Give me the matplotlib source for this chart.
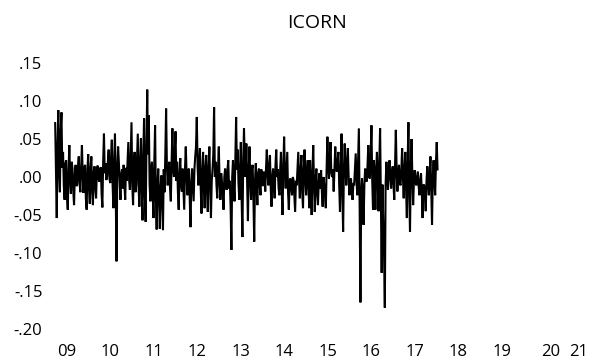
import numpy as np
import matplotlib
matplotlib.use("Agg")
import matplotlib.pyplot as plt
from matplotlib.ticker import FuncFormatter

# ICORN series in six consecutive equal-length time blocks
# (mid 2009 .. end 2017)
icorn_part1 = [.071, .010, -.054, .040, .088, .005, -.020, .062, .085, .012,
               .033, -.012, -.030, .018, .022, -.025, -.043, .008, .042, -.005,
               -.022, .020, .011, -.018, -.037, .004, .016, -.012, -.010, .014,
               .027, -.008, -.020, .010, .042, .002, -.021, .012, .016, -.028,
               -.043, .010, .030, -.015, -.035, .012, .027, -.020, -.037, .006,
               .014, -.015, -.028, .010, .015, -.002, -.006, .010, .013, -.022,
               -.040, .020, .057, .005, .018, -.004, .001, .020, .036, -.002,
               -.008, .025, .049, -.010, -.041, .020, .057, -.030, -.111, .015,
               .040]
icorn_part2 = [.018, -.008, -.030, .004, .010, -.015, .016, -.010, -.030, .012,
               -.005, .020, .046, -.004, -.017, .030, .072, -.010, -.037, .015,
               .033, -.020, -.011, .025, .057, -.012, -.039, .022, .051, -.020,
               -.057, .030, .077, -.025, -.059, .040, .115, .030, .081, -.010,
               -.032, .012, .020, -.025, -.054, .020, .068, -.030, -.069, -.010,
               .011, -.030, -.068, -.015, .002, -.035, -.070, .010, -.020, .030,
               .090, .015, -.011, .008, .020, -.015, -.032, .020, .064, .010,
               .000, .035, .060, -.005, .020, -.020, -.043, .005, .025, -.010,
               -.019]
icorn_part3 = [.011, -.015, -.043, .010, .040, .005, -.024, .008, .011, -.030,
               -.066, -.010, .011, -.012, -.032, .010, .027, .040, .079, .015,
               -.011, .020, .038, -.015, -.048, .005, .033, -.010, -.041, .012,
               .029, -.020, -.046, .015, .040, -.012, -.054, -.005, .010, .030,
               .092, .000, .020, -.010, -.028, .012, .040, -.008, -.030, .005,
               -.006, -.020, -.043, .000, .011, -.008, -.017, .010, .022, -.015,
               -.005, -.040, -.096, .000, .022, -.010, -.032, .020, .079, .010,
               .036, -.008, -.030, .012, .046, -.030, -.079, .020, .064, .020,
               .000]
icorn_part4 = [.044, -.010, -.058, .010, .040, -.005, -.030, .010, .016, -.030,
               -.085, -.005, .018, -.012, -.037, .005, .011, -.010, -.024, .010,
               .000, -.012, .007, .002, -.019, .012, .036, .005, -.011, .015,
               .029, -.015, -.039, .000, .011, -.012, -.028, .015, .036, .000,
               .010, -.015, -.024, .010, .033, -.020, -.050, .015, .053, .005,
               -.015, .010, .033, -.020, -.043, -.005, -.002, -.015, -.024, .000,
               -.004, -.025, -.046, -.005, -.011, .012, .033, -.005, -.028, .010,
               .029, -.020, -.041, .010, .036, -.005, -.024, .008, .022, -.015,
               -.041]
icorn_part5 = [.022, -.010, -.050, .005, .042, -.010, -.046, -.005, .011, -.020,
               -.037, -.008, .005, -.015, .009, -.020, -.039, .000, -.010, -.025,
               -.041, .010, .053, .015, -.002, .025, .046, .005, .000, .010,
               -.019, .012, .040, .015, .007, .020, .033, -.010, -.046, .010,
               .057, -.020, -.072, .010, .044, .012, -.011, .020, .038, .000,
               -.024, -.005, -.002, -.020, -.030, -.008, -.011, .010, .031, -.005,
               -.024, .020, .064, -.040, -.165, -.020, -.002, -.030, -.063, -.010,
               .011, -.002, -.006, .015, .042, .000, -.002, .030, .068, -.005,
               -.043]
icorn_part6 = [.022, .005, -.043, .010, .033, -.010, -.045, .020, .064, -.030,
               -.126, -.010, -.060, -.100, -.172, -.010, .020, .000, -.017, .010,
               .022, .000, -.015, .005, .014, -.010, -.030, .015, .062, .010,
               -.019, .005, .016, -.008, -.011, .010, .038, .000, -.028, .010,
               .033, -.015, -.054, .020, .072, -.020, -.072, .010, .050, .000,
               -.037, -.005, .009, -.005, -.011, .000, .007, -.012, -.024, -.005,
               .005, -.020, -.054, -.010, -.011, -.025, -.045, -.005, .014, -.010,
               -.024, .005, .027, -.020, -.063, .000, .022, -.005, -.024, .020,
               .046, .010]

series_start = 2009.24
series_end = 2018.03

year_labels = ['09', '10', '11', '12', '13', '14', '15', '16', '17', '18', '19', '20', '21']
y_ticks = [.15, .10, .05, .00, -.05, -.10, -.15, -.20]

blocks = [icorn_part1, icorn_part2, icorn_part3, icorn_part4, icorn_part5, icorn_part6]
edges = np.linspace(series_start, series_end, len(blocks) + 1)
dates_list, values_list = [], []
for k, blk in enumerate(blocks):
    last = (k == len(blocks) - 1)
    d = np.linspace(edges[k], edges[k + 1], len(blk), endpoint=last)
    dates_list.append(d)
    values_list.append(np.array(blk))
dates = np.concatenate(dates_list)
values = np.concatenate(values_list)

plt.rcParams['font.family'] = ['Open Sans', 'DejaVu Sans']

W, H = 594, 360
fig = plt.figure(figsize=(W / 100, H / 100), dpi=100)
left_px, right_px = 48, 594
top_px, bottom_px = 63, 329
ax = fig.add_axes([left_px / W, 1 - bottom_px / H,
                   (right_px - left_px) / W, (bottom_px - top_px) / H])

ax.plot(dates, values, color='black', lw=1.5, solid_joinstyle='miter')

ax.set_xlim(2009.075, 2021.627)
ax.set_ylim(-0.20, 0.15)

tick_pos = [2009.5 + i for i in range(11)] + [2020.64, 2021.27]
ax.set_xticks(tick_pos)
ax.set_xticklabels(year_labels)
ax.set_yticks(y_ticks)
ax.yaxis.set_major_formatter(FuncFormatter(
    lambda v, p: ('-' if v < -1e-9 else '') + ('%.2f' % abs(v))[1:]))

for s in ax.spines.values():
    s.set_visible(False)
ax.tick_params(axis='both', length=0, labelsize=12, colors='black')
ax.tick_params(axis='y', pad=4)
ax.tick_params(axis='x', pad=11)

fig.text(317 / W, 1 - 23 / H, 'ICORN', ha='center', va='center', fontsize=14)

fig.savefig('out.png', dpi=100)
